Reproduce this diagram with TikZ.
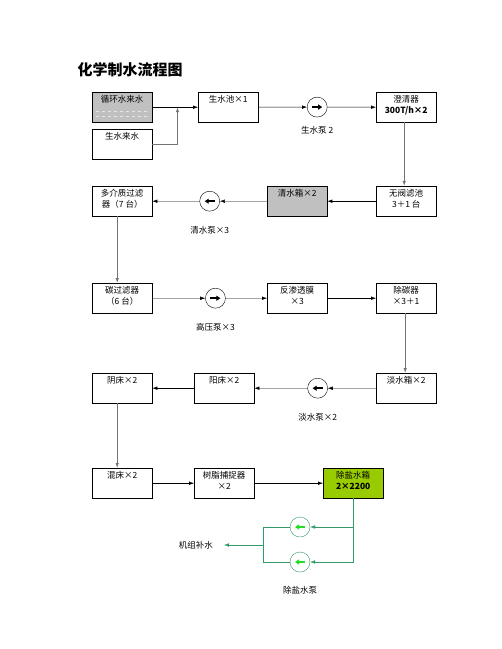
\documentclass[tikz,border=0pt]{standalone}
\usepackage{fontspec}
\setmainfont{Noto Sans CJK SC}
\usetikzlibrary{arrows.meta, positioning, calc}
\definecolor{boxgray}{HTML}{C0C0C0}
\definecolor{tankgreen}{HTML}{99CC00}
\definecolor{pipeteal}{HTML}{339966}
\definecolor{pumpgreen}{HTML}{22DD22}
\newcommand{\cell}[1]{\parbox[c][24pt][t]{56pt}{\centering #1}}

\begin{document}
\begin{tikzpicture}[
    x=1pt, y=-1pt,
    stepbox/.style={rectangle, draw, thin, anchor=north west, minimum width=60pt, minimum height=30pt, inner sep=2pt, font=\fontsize{8.5}{11}\selectfont},
    pump/.style={circle, draw, thin, fill=white, minimum size=20pt, inner sep=0pt},
    pumptext/.style={font=\fontsize{8.5}{11}\selectfont, below=11pt of #1},
    arrow/.style={-{Latex[length=5pt,width=3.5pt]}, thin},
    riser/.style={-{Latex[length=5pt,width=3.5pt]}, draw=black!55, line width=0.9pt},
    inarrow/.style={-{Triangle[length=4pt,width=5pt]}, line width=2pt},
    garrow/.style={-{Latex[length=5pt,width=3.5pt]}, draw=pipeteal, thin}
]
\useasboundingbox (0,0) rectangle (502,649);

\node[anchor=west, font=\fontsize{15}{18}\selectfont\bfseries] (title) at (74,70) {化学制水流程图};

% row 1
\node[stepbox, fill=boxgray] (cycwater) at (92,92) {\cell{循环水来水}};
\draw[dashed, white!90!black] ($(cycwater.west)+(4,4)$) -- ($(cycwater.east)+(-4,4)$);
\draw[dashed, white!90!black] ($(cycwater.west)+(4,9)$) -- ($(cycwater.east)+(-4,9)$);
\node[stepbox] (rawwater) at (92,129) {\cell{生水来水}};
\node[stepbox] (rawpool) at (198,92) {\cell{生水池×1}};
\node[pump] (rawpump) at ($(rawpool.east)!0.5!(376,107)$) {};
\node[font=\fontsize{8.5}{11}\selectfont, below=6pt of rawpump] (rawpumplbl) {生水泵 2};
\node[stepbox] (clarifier) at (376,92) {\cell{澄清器\\ \textbf{300T/h×2}}};

\draw[arrow] (cycwater) -- (rawpool);
\draw[riser] (rawwater.east) -| ($(cycwater.east)!0.55!(rawpool.west)$);
\draw[arrow] (rawpool) -- (rawpump);
\draw[inarrow] ([xshift=-5pt]rawpump.center) -- ([xshift=5pt]rawpump.center);
\draw[arrow] (rawpump) -- (clarifier);

% row 2
\node[stepbox] (multifilter) at (92,186) {\cell{多介质过滤\\ 器（7 台）}};
\node[stepbox, fill=boxgray] (cleantank) at (267,186) {\cell{清水箱×2}};
\node[stepbox] (valvefilter) at (376,186) {\cell{无阀滤池\\ 3＋1 台}};
\node[pump] (cleanpump) at ($(multifilter.east)!0.5!(cleantank.west)$) {};
\node[pumptext=cleanpump] (cleanpumplbl) {清水泵×3};

\draw[riser] ([xshift=-2pt]clarifier.south) -- ([xshift=-2pt]valvefilter.north);
\draw[arrow] (valvefilter) -- (cleantank);
\draw[arrow] (cleantank) -- (cleanpump);
\draw[inarrow] ([xshift=5pt]cleanpump.center) -- ([xshift=-5pt]cleanpump.center);
\draw[arrow] (cleanpump) -- (multifilter);

% row 3
\node[stepbox] (carbonfilter) at (92,283) {\cell{碳过滤器\\ （6 台）}};
\node[stepbox] (romembrane) at (267,283) {\cell{反渗透膜\\ ×3}};
\node[stepbox] (decarb) at (376,283) {\cell{除碳器\\ ×3＋1}};
\node[pump] (hppump) at ($(carbonfilter.east)!0.55!(romembrane.west)$) {};
\node[pumptext=hppump] (hppumplbl) {高压泵×3};

\draw[riser] ([xshift=-5pt]multifilter.south) -- ([xshift=-5pt]carbonfilter.north);
\draw[arrow] (carbonfilter) -- (hppump);
\draw[inarrow] ([xshift=-5pt]hppump.center) -- ([xshift=5pt]hppump.center);
\draw[arrow] (hppump) -- (romembrane);
\draw[arrow] (romembrane) -- (decarb);

% row 4
\node[stepbox] (anionbed) at (92,373) {\cell{阴床×2}};
\node[stepbox] (cationbed) at (194,373) {\cell{阳床×2}};
\node[stepbox] (freshtank) at (376,373) {\cell{淡水箱×2}};
\node[pump] (freshpump) at ($(cationbed.east)!0.52!(freshtank.west)$) {};
\node[pumptext=freshpump] (freshpumplbl) {淡水泵×2};

\draw[riser] ([xshift=-1pt]decarb.south) -- ([xshift=-1pt]freshtank.north);
\draw[arrow] (freshtank) -- (freshpump);
\draw[inarrow] ([xshift=5pt]freshpump.center) -- ([xshift=-5pt]freshpump.center);
\draw[arrow] (freshpump) -- (cationbed);
\draw[arrow] (cationbed) -- (anionbed);

% row 5
\node[stepbox] (mixbed) at (92,468) {\cell{混床×2}};
\node[stepbox] (resintrap) at (194,468) {\cell{树脂捕捉器\\ ×2}};
\node[stepbox, fill=tankgreen] (demintank) at (323,468) {\cell{除盐水箱\\ \textbf{2×2200}}};

\draw[riser] ([xshift=-5pt]anionbed.south) -- ([xshift=-5pt]mixbed.north);
\draw[arrow] (mixbed) -- (resintrap);
\draw[arrow] (resintrap) -- (demintank);

% demineralised water pumps
\node[pump, draw=pipeteal] (dpumpa) at (300,527) {};
\node[pump, draw=pipeteal] (dpumpb) at (300,562) {};
\node[pumptext=dpumpb] (dpumplbl) {除盐水泵};
\coordinate (joint) at (263,545);
\node[font=\fontsize{8.5}{11}\selectfont, anchor=east, inner sep=1pt] (makeup) at (214,545) {机组补水};

\draw[garrow] (demintank.south) |- (dpumpb);
\draw[garrow] (demintank.south |- dpumpa) -- (dpumpa);
\draw[pipeteal] (dpumpa) -| (joint);
\draw[pipeteal] (dpumpb) -| (joint);
\draw[garrow] (joint) -- ([xshift=10pt]makeup.east);
\draw[inarrow, pumpgreen] ([xshift=5pt]dpumpa.center) -- ([xshift=-5pt]dpumpa.center);
\draw[inarrow, pumpgreen] ([xshift=5pt]dpumpb.center) -- ([xshift=-5pt]dpumpb.center);

\end{tikzpicture}
\end{document}
